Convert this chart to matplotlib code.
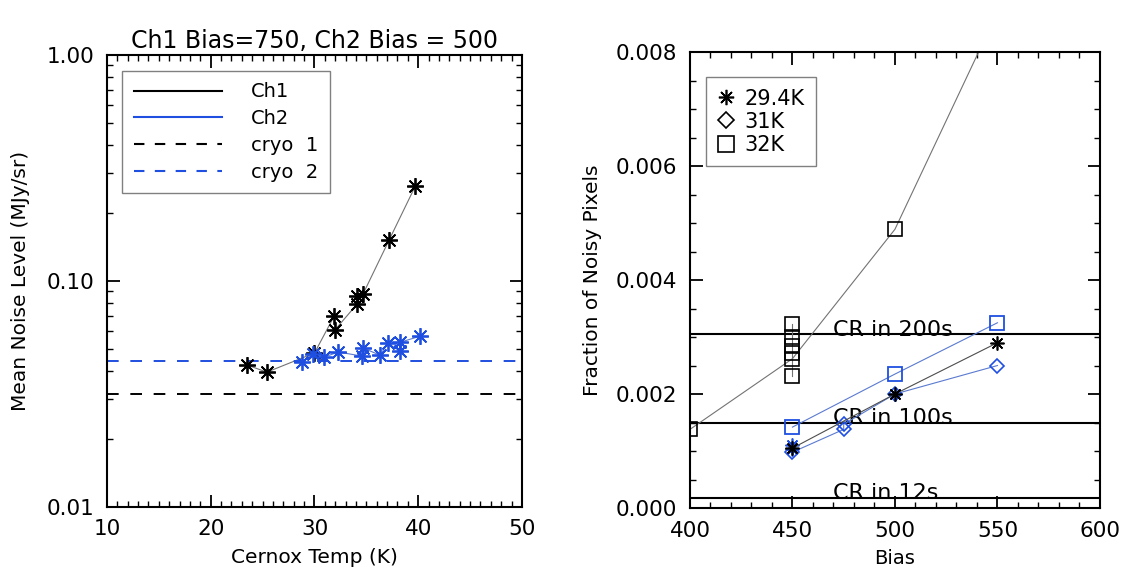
import numpy as np
import matplotlib.pyplot as plt
from matplotlib.ticker import FixedLocator, MultipleLocator, LogLocator, NullFormatter
from matplotlib.lines import Line2D

plt.rcParams['font.family'] = ['DejaVu Sans']

# left panel: noise vs Cernox temperature
ch1_temp = [23.5, 25.4, 30.0, 31.9, 32.0, 34.1, 34.1, 34.7, 37.2, 39.7]
ch1_noise = [0.0425, 0.0395, 0.0480, 0.0700, 0.0610, 0.0790, 0.0860, 0.0880, 0.152, 0.262]
ch2_temp = [28.8, 29.9, 30.9, 32.3, 34.6, 34.7, 36.3, 37.1, 38.2, 38.2, 40.2]
ch2_noise = [0.0440, 0.0475, 0.0460, 0.0485, 0.0465, 0.0505, 0.0470, 0.0530, 0.0490, 0.0535, 0.0570]
cryo1_level = 0.0317
cryo2_level = 0.0443

# right panel: fraction of noisy pixels vs bias
k294_bias = [450, 500, 550]
k294_frac = [0.00105, 0.00200, 0.00290]
k294_ch2_bias = [450, 450, 500]
k294_ch2_frac = [0.00103, 0.00110, 0.00200]
k31_bias = [450, 475, 475, 500, 550]
k31_frac = [0.00098, 0.00138, 0.00147, 0.00200, 0.00250]
k32_ch1_bias = [400, 450, 450, 450, 450, 450, 450, 500]
k32_ch1_frac = [0.00138, 0.00232, 0.00262, 0.00272, 0.00285, 0.00300, 0.00322, 0.00489]
k32_trend_bias = [400, 450, 500, 550]
k32_trend_frac = [0.00138, 0.00262, 0.00489, 0.00870]
k32_ch2_bias = [450, 500, 550]
k32_ch2_frac = [0.00142, 0.00235, 0.00325]
cr_levels = [0.00305, 0.00150, 0.00018]
cr_labels = ['CR in 200s', 'CR in 100s', 'CR in 12s']

blue = '#1f4fe0'
ast = (8, 2, 0)

fig = plt.figure(figsize=(11.25, 5.76), dpi=100)

# ---- left panel
ax1 = fig.add_axes([0.0951, 0.1198, 0.3689, 0.7847])
ax1.set_yscale('log')
ax1.plot(ch1_temp, ch1_noise, color='0.45', lw=0.8, zorder=2)
ax1.plot(ch1_temp, ch1_noise, ls='none', marker=ast, ms=12, mec='black', mew=1.3, zorder=3)
ax1.plot(ch2_temp, ch2_noise, color='#5a7ad0', lw=0.8, zorder=2)
ax1.plot(ch2_temp, ch2_noise, ls='none', marker=ast, ms=12, mec=blue, mew=1.3, zorder=3)
ax1.axhline(cryo1_level, color='black', ls=(0, (6, 6)), lw=1.4)
ax1.axhline(cryo2_level, color=blue, ls=(0, (6, 6)), lw=1.4)
ax1.set_xlim(10, 50)
ax1.set_ylim(0.01, 1.0)
ax1.xaxis.set_major_locator(MultipleLocator(10))
ax1.xaxis.set_minor_locator(MultipleLocator(1))
ax1.yaxis.set_major_locator(FixedLocator([0.01, 0.1, 1.0]))
ax1.yaxis.set_minor_locator(LogLocator(base=10, subs=np.arange(2, 10)))
ax1.yaxis.set_minor_formatter(NullFormatter())
ax1.set_yticklabels(['0.01', '0.10', '1.00'])
ax1.set_xlabel('Cernox Temp (K)', fontsize=14.5, labelpad=6)
ax1.set_ylabel('Mean Noise Level (MJy/sr)', fontsize=14.5, labelpad=12)
ax1.set_title('Ch1 Bias=750, Ch2 Bias = 500', fontsize=17, pad=5)

handles = [Line2D([], [], color='black', lw=1.5),
           Line2D([], [], color=blue, lw=1.5),
           Line2D([], [], color='black', lw=1.5, ls=(0, (5, 5))),
           Line2D([], [], color=blue, lw=1.5, ls=(0, (5, 5)))]
leg1 = ax1.legend(handles, ['Ch1', 'Ch2', 'cryo  1', 'cryo  2'], loc='upper left',
                  bbox_to_anchor=(0.037, 0.965), borderaxespad=0, fontsize=14,
                  handlelength=4.5, handletextpad=1.5, borderpad=0.6, labelspacing=0.4,
                  fancybox=False, framealpha=1)
leg1.get_frame().set_edgecolor('0.5')
leg1.get_frame().set_linewidth(1.0)

# ---- right panel
ax2 = fig.add_axes([0.6133, 0.118, 0.3644, 0.7917])
for lev, lab in zip(cr_levels, cr_labels):
    ax2.axhline(lev, color='black', lw=1.5, zorder=1)
    ax2.text(470, lev - 0.0001, lab, fontsize=16, va='bottom', ha='left', zorder=1)

ax2.plot(k32_trend_bias, k32_trend_frac, color='0.45', lw=0.8, zorder=2)
ax2.plot(k32_ch1_bias, k32_ch1_frac, ls='none', marker='s', ms=10, mfc='none',
         mec='black', mew=1.2, zorder=3)
ax2.plot([450, 450], [k32_ch1_frac[1], k32_ch1_frac[-2]], color='0.45', lw=0.8, zorder=2)
ax2.plot(k32_ch2_bias, k32_ch2_frac, color='#5a7ad0', lw=0.8, marker='s', ms=10,
         mfc='none', mec=blue, mew=1.3, zorder=3)
ax2.plot(k31_bias, k31_frac, color='#5a7ad0', lw=0.8, marker='D', ms=7,
         mfc='none', mec=blue, mew=1.2, zorder=3)
ax2.plot(k294_ch2_bias, k294_ch2_frac, ls='none', marker=ast, ms=10,
         mec=blue, mew=1.2, zorder=3)
ax2.plot(k294_bias, k294_frac, color='0.3', lw=0.8, marker=ast, ms=10,
         mec='black', mew=1.2, zorder=4)
ax2.set_xlim(400, 600)
ax2.set_ylim(0, 0.008)
ax2.xaxis.set_major_locator(MultipleLocator(50))
ax2.xaxis.set_minor_locator(MultipleLocator(10))
ax2.yaxis.set_major_locator(MultipleLocator(0.002))
ax2.yaxis.set_minor_locator(MultipleLocator(0.0005))
ax2.yaxis.set_major_formatter(plt.FuncFormatter(lambda v, p: f'{v:.3f}'))
ax2.set_xlabel('Bias', fontsize=14, labelpad=6)
ax2.set_ylabel('Fraction of Noisy Pixels', fontsize=14.5, labelpad=10)

handles2 = [Line2D([], [], ls='none', marker=ast, ms=11, mec='black', mew=1.2),
            Line2D([], [], ls='none', marker='D', ms=8, mfc='none', mec='black', mew=1.2),
            Line2D([], [], ls='none', marker='s', ms=11, mfc='none', mec='black', mew=1.2)]
leg2 = ax2.legend(handles2, ['29.4K', '31K', '32K'], loc='upper left',
                  bbox_to_anchor=(0.039, 0.945), borderaxespad=0, fontsize=15,
                  handlelength=0.8, handletextpad=0.5, borderpad=0.55, labelspacing=0.15,
                  fancybox=False, framealpha=1)
leg2.get_frame().set_edgecolor('0.5')
leg2.get_frame().set_linewidth(1.0)
leg2._legend_box.align = 'left'

for ax in (ax1, ax2):
    ax.tick_params(which='both', direction='in', top=True, right=True, labelsize=15.5, pad=9)
    ax.tick_params(which='major', length=9, width=1.3)
    ax.tick_params(which='minor', length=4.5, width=1.0)
    for s in ax.spines.values():
        s.set_linewidth(1.5)

plt.savefig('out.png', dpi=100)
